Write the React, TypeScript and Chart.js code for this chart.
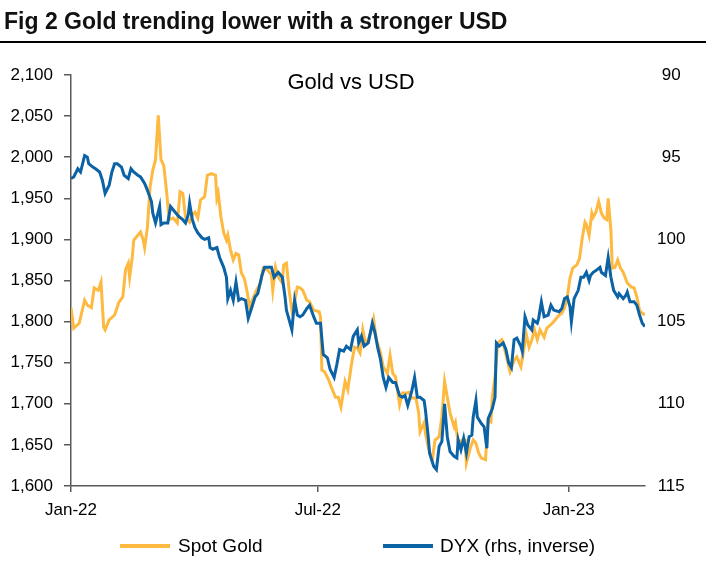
import React, { useEffect, useRef } from "react";
import { Chart, registerables } from "chart.js";

Chart.register(...registerables);

// Days counted from 1 Jan 2022
const goldDays = [0,2,6,10,12,15,17,20,22,24,25,28,32,35,38,40,42,43,45,46,49,51,53,54,56,58,60,62,64,66,68,70,72,75,78,80,82,84,87,89,91,93,95,98,100,103,106,107,108,110,112,114,115,117,119,121,123,125,127,129,131,134,136,139,141,144,147,148,150,152,155,156,158,160,162,164,166,168,170,173,175,178,182,183,184,186,189,191,194,196,198,201,203,206,208,210,212,214,216,218,221,222,224,227,229,232,234,236,238,241,243,246,248,250,253,255,256,259,260,262,265,267,270,272,274,276,278,281,282,284,287,289,290,293,295,297,299,301,304,306,308,309,311,313,316,317,320,322,325,327,330,332,334,336,338,340,342,344,347,349,353,355,358,360,362,364,366,368,371,373,375,377,378,380,382,383,385,387,389,391,393,394,396,397,399,401,403,405,408,411,413,415,417,419,421];
const goldValues = [1817,1792,1798,1826,1820,1817,1841,1838,1848,1793,1790,1802,1808,1823,1830,1863,1871,1854,1879,1899,1905,1909,1899,1890,1914,1964,1984,1997,2051,1997,1990,1960,1924,1926,1920,1958,1956,1927,1921,1930,1933,1926,1948,1952,1978,1980,1978,1950,1956,1927,1908,1899,1905,1887,1875,1883,1881,1859,1853,1838,1818,1830,1838,1847,1865,1863,1857,1838,1866,1854,1847,1869,1871,1838,1814,1824,1842,1841,1838,1826,1824,1814,1812,1806,1741,1739,1729,1720,1708,1708,1696,1727,1717,1751,1769,1768,1762,1790,1774,1778,1793,1802,1778,1762,1745,1737,1759,1737,1733,1699,1713,1713,1714,1707,1707,1689,1666,1677,1664,1647,1632,1656,1660,1684,1727,1708,1689,1672,1677,1652,1656,1656,1628,1647,1656,1652,1640,1634,1632,1680,1678,1708,1733,1774,1778,1774,1753,1739,1753,1757,1745,1765,1784,1769,1778,1790,1778,1790,1781,1792,1798,1802,1808,1810,1817,1830,1853,1865,1869,1877,1902,1921,1918,1905,1932,1927,1933,1946,1932,1926,1924,1950,1911,1865,1866,1875,1865,1860,1847,1842,1841,1830,1814,1810,1808];

const dxyDays = [0,2,5,7,10,12,13,16,18,21,23,25,28,30,32,34,37,39,42,44,46,49,51,54,56,59,60,62,65,66,68,71,73,76,79,82,84,86,87,89,91,93,96,98,101,102,104,107,109,112,114,115,117,119,121,123,125,128,130,132,135,137,140,142,145,147,149,152,155,157,158,160,162,164,166,168,170,173,175,178,180,183,185,188,190,193,195,197,200,202,205,207,210,211,213,215,218,221,223,225,227,229,231,233,236,238,241,243,245,247,250,252,254,256,259,260,262,263,266,268,270,272,274,276,278,281,283,284,286,288,290,292,294,295,297,298,301,303,305,306,309,311,312,314,317,319,321,323,325,327,330,331,333,335,338,339,342,343,345,347,350,352,354,358,360,362,364,366,367,369,372,374,376,378,380,381,383,385,388,389,392,394,396,398,401,402,405,407,408,410,413,415,417,419,421];
const dxyValues = [96.3,96.2,95.7,95.9,94.9,95.0,95.4,95.6,95.7,95.9,96.4,97.2,96.7,95.9,95.4,95.4,95.6,96.1,96.3,95.7,95.9,96.1,96.2,96.6,97.0,97.7,98.4,99.0,98.0,99.1,99.0,99.0,98.0,98.3,98.6,98.8,99.0,98.5,97.8,98.8,99.3,99.6,99.9,100.0,99.9,100.5,100.6,100.5,101.1,101.7,102.3,103.6,103.1,103.7,102.6,103.7,103.6,103.7,104.8,104.3,103.5,103.3,102.2,101.7,101.7,101.7,102.3,102.0,102.3,103.5,104.3,104.9,105.5,103.7,104.6,104.7,104.6,104.2,104.0,104.7,105.1,105.1,107.0,107.2,107.9,108.4,107.6,106.7,106.8,106.5,106.7,105.9,105.5,106.3,105.9,106.5,106.3,105.1,105.7,106.6,107.3,108.4,109.0,108.4,108.7,108.7,109.5,109.6,109.5,110.1,109.2,108.4,109.6,109.6,109.8,110.4,112.0,113.0,113.8,114.0,112.6,112.3,110.0,112.0,112.9,113.2,113.3,112.2,112.8,112.1,113.0,112.0,111.9,110.8,109.8,110.8,111.2,111.4,112.7,110.9,110.3,109.6,106.3,106.5,106.3,106.7,107.5,107.8,106.1,106.0,106.5,106.8,104.7,105.2,105.5,104.9,105.1,104.8,103.8,104.7,104.6,104.0,104.3,104.4,104.2,103.6,103.5,104.1,105.0,103.6,103.1,102.3,102.3,102.0,102.5,102.2,102.0,101.9,101.7,102.0,102.2,101.1,102.3,103.1,103.5,103.3,103.6,103.4,103.2,103.8,103.8,104.0,104.6,105.1,105.3];

const xTickDays = [0, 181, 365];
const xTickLabels = ["Jan-22", "Jul-22", "Jan-23"];

const GOLD = "#FDB940";
const BLUE = "#0B62A4";
const FONT = '"Liberation Sans", Arial, sans-serif';
const AXIS = "#5a5a5a";

export default function App() {
  const ref = useRef<HTMLCanvasElement | null>(null);

  useEffect(() => {
    if (!ref.current) return;
    const chart = new Chart(ref.current, {
      type: "line",
      data: {
        datasets: [
          {
            label: "Spot Gold",
            data: goldDays.map((d, i) => ({ x: d, y: goldValues[i] })),
            borderColor: GOLD,
            backgroundColor: GOLD,
            borderWidth: 3,
            pointRadius: 0,
            tension: 0,
            yAxisID: "y",
            order: 1,
          },
          {
            label: "DYX (rhs, inverse)",
            data: dxyDays.map((d, i) => ({ x: d, y: dxyValues[i] })),
            borderColor: BLUE,
            backgroundColor: BLUE,
            borderWidth: 3,
            pointRadius: 0,
            tension: 0,
            yAxisID: "y1",
            order: 0,
          },
        ],
      },
      options: {
        responsive: false,
        animation: false,
        events: [],
        layout: { padding: { top: 75, left: 0, right: 0, bottom: 0 } },
        plugins: {
          legend: { display: false },
          title: { display: false },
          tooltip: { enabled: false },
        },
        scales: {
          x: {
            type: "linear",
            min: 0,
            max: 421,
            afterBuildTicks: (scale: any) => {
              scale.ticks = xTickDays.map((v) => ({ value: v }));
            },
            afterFit: (scale: any) => {
              scale.height = 82;
            },
            grid: {
              display: true,
              drawOnChartArea: false,
              drawTicks: true,
              tickLength: 6,
              color: AXIS,
              lineWidth: 1.5,
            },
            border: { display: true, color: AXIS, width: 1.5 },
            ticks: {
              autoSkip: false,
              maxRotation: 0,
              padding: 8,
              color: "#000",
              font: { family: FONT, size: 17 },
              callback: (v: any) => {
                const i = xTickDays.indexOf(Number(v));
                return i >= 0 ? xTickLabels[i] : "";
              },
            },
          },
          y: {
            position: "left",
            min: 1600,
            max: 2100,
            afterFit: (scale: any) => {
              scale.width = 71;
            },
            grid: {
              display: true,
              drawOnChartArea: false,
              drawTicks: true,
              tickLength: 7,
              color: AXIS,
              lineWidth: 1.5,
            },
            border: { display: true, color: AXIS, width: 1.5 },
            ticks: {
              stepSize: 50,
              padding: 11,
              color: "#000",
              font: { family: FONT, size: 17 },
              callback: (v: any) => Number(v).toLocaleString("en-US"),
            },
          },
          y1: {
            position: "right",
            min: 90,
            max: 115,
            reverse: true,
            afterFit: (scale: any) => {
              scale.width = 68;
            },
            grid: { display: false, drawOnChartArea: false, drawTicks: false },
            border: { display: false },
            ticks: {
              stepSize: 5,
              padding: 12,
              crossAlign: "center",
              color: "#000",
              font: { family: FONT, size: 17 },
            },
          },
        },
      },
    });
    return () => chart.destroy();
  }, []);

  return (
    <div
      style={{
        position: "absolute",
        left: 0,
        top: 0,
        width: 713,
        height: 568,
        background: "#fff",
        fontFamily: FONT,
        overflow: "hidden",
      }}
    >
      <canvas
        ref={ref}
        width={713}
        height={568}
        style={{ position: "absolute", left: 0, top: 0, width: 713, height: 568 }}
      />
      <div
        style={{
          position: "absolute",
          left: 4,
          top: 7,
          fontSize: 23,
          fontWeight: "bold",
          lineHeight: "28px",
          color: "#111",
          whiteSpace: "nowrap",
        }}
      >
        Fig 2 Gold trending lower with a stronger USD
      </div>
      <div
        style={{
          position: "absolute",
          left: 0,
          top: 41,
          width: 706,
          height: 2,
          background: "#000",
        }}
      />
      <div
        style={{
          position: "absolute",
          left: 251,
          top: 70,
          width: 200,
          textAlign: "center",
          fontSize: 22,
          lineHeight: "24px",
          color: "#000",
        }}
      >
        Gold vs USD
      </div>
      <div style={{ position: "absolute", left: 120, top: 544, width: 50, height: 4, background: GOLD }} />
      <div
        style={{ position: "absolute", left: 178, top: 535, fontSize: 19, lineHeight: "22px", color: "#000", whiteSpace: "nowrap" }}
      >
        Spot Gold
      </div>
      <div style={{ position: "absolute", left: 383, top: 544, width: 50, height: 4, background: BLUE }} />
      <div
        style={{ position: "absolute", left: 440, top: 535, fontSize: 19, lineHeight: "22px", color: "#000", whiteSpace: "nowrap" }}
      >
        DYX (rhs, inverse)
      </div>
    </div>
  );
}
